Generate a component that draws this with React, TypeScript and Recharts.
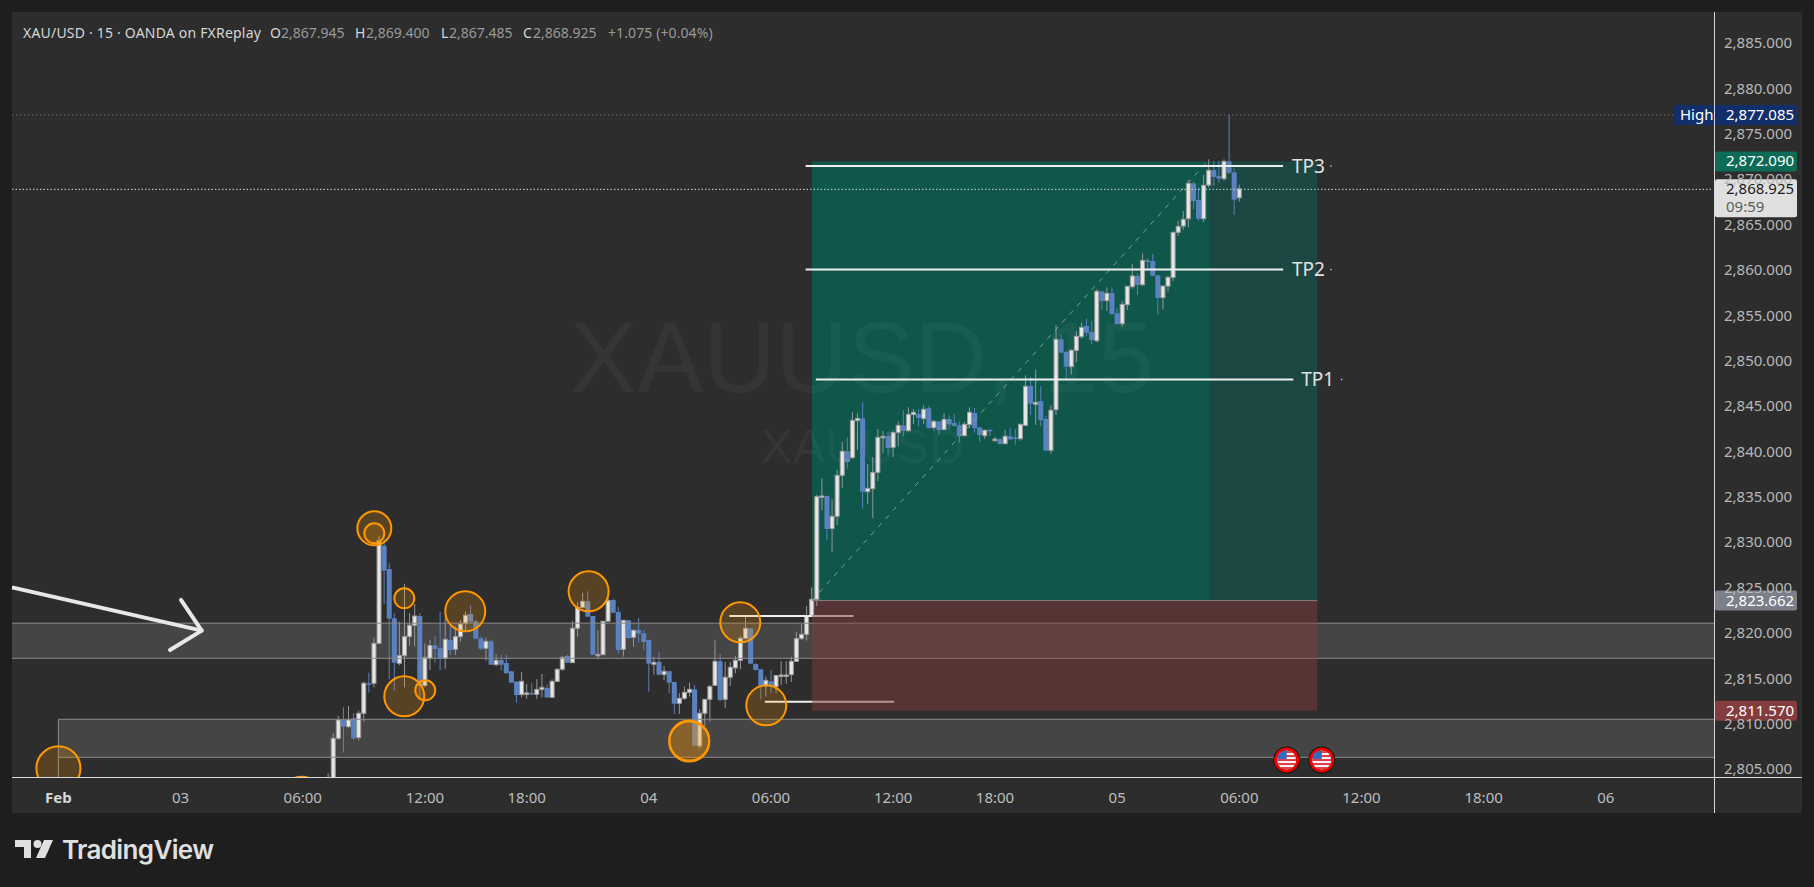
import { Bar, ComposedChart, ReferenceArea, ReferenceDot, ReferenceLine, XAxis, YAxis } from "recharts";

// 15 minute bars, index 0 is the first one that shows above the time axis
const opens = [
  2803.0, 2803.4, 2808.38, 2810.4, 2809.67, 2810.59, 2808.46, 2811.14, 2814.45, 2814.45,
  2818.85, 2829.61, 2827.04, 2821.61, 2816.65, 2817.49, 2819.59, 2820.84, 2821.86, 2814.19,
  2817.2, 2818.63, 2818.3, 2817.2, 2819.22, 2818.19, 2819.59, 2821.06, 2822.09, 2821.28,
  2819.4, 2818.3, 2819.07, 2816.5, 2817.02, 2816.69, 2815.77, 2814.63, 2813.2, 2813.31,
  2813.38, 2813.23, 2813.78, 2813.93, 2812.9, 2814.66, 2815.99, 2817.46, 2816.72, 2820.51,
  2822.82, 2823.48, 2821.86, 2817.57, 2817.6, 2821.28, 2823.63, 2822.3, 2818.19, 2821.39,
  2819.51, 2820.32, 2819.96, 2819.22, 2816.54, 2816.8, 2815.4, 2815.77, 2814.59, 2812.24,
  2812.79, 2813.45, 2813.78, 2807.54, 2811.14, 2812.68, 2814.22, 2816.87, 2812.68, 2815.11,
  2816.14, 2816.98, 2819.4, 2820.51, 2816.57, 2815.99, 2814.15, 2814.66, 2814.08, 2815.29,
  2815.29, 2815.4, 2816.87, 2819.37, 2819.84, 2821.83, 2823.7, 2835.02, 2835.09, 2831.49,
  2832.85, 2837.36, 2840.01, 2839.31, 2843.39, 2843.64, 2835.56, 2835.89, 2837.69, 2841.6,
  2841.7, 2840.45, 2842.07, 2842.87, 2842.29, 2844.05, 2844.12, 2843.61, 2844.75, 2842.62,
  2843.31, 2842.4, 2843.57, 2843.13, 2842.87, 2841.73, 2842.95, 2844.23, 2842.65, 2841.73,
  2842.38, 2841.31, 2841.33, 2840.85, 2841.66, 2841.53, 2841.4, 2842.87, 2847.21, 2845.19,
  2845.55, 2843.57, 2840.12, 2844.6, 2852.35, 2850.95, 2849.34, 2851.14, 2852.64, 2853.82,
  2853.16, 2852.2, 2857.64, 2856.61, 2857.45, 2855.21, 2854.07, 2856.17, 2858.15, 2859.33,
  2858.37, 2861.05, 2860.98, 2859.4, 2856.94, 2858.22, 2859.18, 2864.14, 2864.84, 2865.64,
  2869.54, 2867.7, 2865.64, 2869.35, 2871.01, 2870.35, 2870.05, 2871.96, 2870.75, 2867.945,
];
const highs = [
  2804.53, 2808.94, 2810.85, 2811.8, 2811.95, 2811.14, 2811.43, 2814.63, 2815.62, 2819.51,
  2830.68, 2830.42, 2827.67, 2822.16, 2821.24, 2825.39, 2822.16, 2823.19, 2822.16, 2818.85,
  2819.22, 2819.66, 2822.3, 2821.79, 2820.69, 2820.69, 2821.42, 2822.34, 2823.08, 2821.42,
  2819.59, 2819.51, 2819.22, 2817.68, 2817.57, 2817.57, 2815.77, 2814.63, 2815.69, 2814.37,
  2814.45, 2814.89, 2815.47, 2814.3, 2814.89, 2816.1, 2817.46, 2817.6, 2821.31, 2823.41,
  2824.44, 2824.58, 2821.86, 2820.32, 2821.28, 2824.14, 2823.7, 2822.89, 2821.39, 2821.39,
  2820.36, 2821.64, 2820.32, 2819.22, 2817.38, 2817.9, 2816.35, 2815.84, 2814.59, 2813.34,
  2814.08, 2814.52, 2814.26, 2811.58, 2812.68, 2814.26, 2819.22, 2817.68, 2816.8, 2816.8,
  2817.46, 2819.66, 2821.86, 2820.51, 2816.65, 2815.99, 2815.18, 2815.91, 2815.36, 2816.87,
  2816.87, 2817.38, 2820.1, 2820.98, 2822.97, 2825.02, 2835.2, 2837.03, 2835.09, 2834.72,
  2837.95, 2841.04, 2841.55, 2844.31, 2844.2, 2845.41, 2838.61, 2839.38, 2842.47, 2842.25,
  2842.14, 2842.29, 2843.31, 2844.56, 2844.86, 2844.67, 2844.64, 2845.08, 2845.0, 2843.46,
  2843.31, 2844.2, 2843.98, 2844.12, 2843.31, 2843.24, 2844.86, 2844.78, 2842.65, 2842.43,
  2842.43, 2841.59, 2841.48, 2842.36, 2842.58, 2842.47, 2843.09, 2848.38, 2848.16, 2849.04,
  2847.21, 2843.9, 2845.08, 2853.93, 2852.86, 2851.1, 2851.25, 2853.27, 2854.19, 2854.63,
  2854.4, 2857.86, 2857.64, 2858.08, 2858.04, 2855.76, 2856.57, 2858.19, 2860.65, 2859.62,
  2861.82, 2861.31, 2861.75, 2859.4, 2858.22, 2859.4, 2864.21, 2865.42, 2866.49, 2869.91,
  2869.72, 2869.1, 2870.46, 2872.18, 2872.0, 2872.0, 2872.18, 2877.085, 2871.19, 2869.4,
];
const lows = [
  2802.5, 2803.0, 2808.2, 2806.81, 2809.49, 2808.2, 2808.13, 2810.22, 2813.42, 2814.0,
  2818.85, 2823.19, 2814.89, 2813.64, 2816.43, 2814.0, 2818.56, 2818.49, 2812.61, 2814.0,
  2815.91, 2816.72, 2815.91, 2816.06, 2817.57, 2817.57, 2819.04, 2820.14, 2821.06, 2819.29,
  2818.12, 2816.94, 2816.46, 2816.35, 2815.84, 2815.55, 2814.52, 2812.31, 2812.9, 2812.72,
  2813.16, 2812.72, 2812.9, 2812.83, 2812.83, 2814.59, 2815.84, 2816.72, 2816.72, 2819.59,
  2822.71, 2821.72, 2817.6, 2817.09, 2817.53, 2821.2, 2822.16, 2817.75, 2817.38, 2819.37,
  2818.49, 2818.93, 2818.12, 2813.53, 2815.4, 2815.33, 2814.81, 2813.34, 2811.07, 2811.07,
  2812.61, 2812.98, 2807.47, 2807.25, 2809.74, 2810.22, 2814.15, 2812.46, 2811.73, 2814.15,
  2815.55, 2815.99, 2819.29, 2816.57, 2815.84, 2812.68, 2812.98, 2813.34, 2813.34, 2814.26,
  2814.37, 2814.59, 2816.8, 2819.22, 2819.15, 2821.79, 2822.97, 2833.54, 2830.24, 2828.95,
  2831.89, 2836.0, 2838.1, 2839.2, 2840.16, 2833.69, 2834.21, 2832.66, 2836.74, 2839.79,
  2839.6, 2839.38, 2840.6, 2841.7, 2842.14, 2843.02, 2842.73, 2843.02, 2842.51, 2842.29,
  2841.81, 2842.36, 2842.36, 2842.73, 2840.96, 2841.66, 2842.54, 2842.07, 2841.07, 2841.37,
  2841.7, 2841.07, 2840.74, 2840.78, 2841.26, 2840.74, 2841.18, 2842.8, 2844.01, 2842.91,
  2842.8, 2840.08, 2839.71, 2844.01, 2850.81, 2847.87, 2848.46, 2849.85, 2852.42, 2852.72,
  2851.83, 2852.05, 2855.58, 2855.47, 2855.03, 2854.04, 2853.74, 2855.58, 2857.93, 2857.23,
  2858.22, 2859.91, 2859.33, 2855.03, 2855.65, 2857.6, 2858.78, 2863.77, 2864.4, 2864.69,
  2866.67, 2865.42, 2865.28, 2869.1, 2869.24, 2869.61, 2869.83, 2870.57, 2866.05, 2867.485,
];
const closes = [
  2803.4, 2808.38, 2810.4, 2809.67, 2810.4, 2808.38, 2811.14, 2814.45, 2814.37, 2818.85,
  2830.17, 2826.86, 2821.57, 2816.72, 2817.49, 2819.59, 2820.84, 2821.86, 2814.19, 2817.31,
  2818.6, 2818.23, 2817.16, 2819.29, 2818.12, 2819.59, 2820.98, 2821.94, 2821.24, 2819.37,
  2818.26, 2819.07, 2816.5, 2816.98, 2816.5, 2815.55, 2814.52, 2813.16, 2814.66, 2813.38,
  2813.31, 2813.78, 2814.0, 2812.9, 2814.66, 2815.99, 2817.31, 2816.72, 2820.51, 2822.82,
  2823.48, 2821.79, 2817.6, 2817.64, 2821.28, 2823.55, 2822.23, 2818.12, 2821.39, 2819.44,
  2820.29, 2819.92, 2819.0, 2816.61, 2816.76, 2815.4, 2815.77, 2814.52, 2812.2, 2812.79,
  2813.45, 2813.78, 2807.58, 2811.14, 2812.68, 2814.08, 2816.87, 2812.61, 2815.11, 2816.21,
  2816.98, 2819.4, 2820.51, 2816.61, 2815.91, 2814.15, 2814.77, 2814.08, 2815.29, 2815.36,
  2815.36, 2816.87, 2819.37, 2819.84, 2821.83, 2823.7, 2835.01, 2835.09, 2831.45, 2832.85,
  2837.36, 2840.01, 2838.83, 2843.42, 2843.64, 2835.56, 2835.93, 2837.69, 2841.55, 2841.66,
  2840.38, 2842.07, 2842.87, 2842.25, 2844.09, 2844.31, 2843.68, 2844.64, 2842.58, 2843.31,
  2842.36, 2843.53, 2842.98, 2842.8, 2841.7, 2842.98, 2844.31, 2842.58, 2841.81, 2842.32,
  2842.34, 2841.35, 2840.82, 2841.66, 2841.33, 2841.49, 2842.98, 2847.17, 2845.26, 2845.41,
  2843.46, 2840.08, 2844.53, 2852.35, 2850.88, 2849.34, 2851.14, 2852.68, 2853.67, 2853.08,
  2852.27, 2857.64, 2856.57, 2857.42, 2855.14, 2854.04, 2856.2, 2858.19, 2859.33, 2858.34,
  2861.05, 2861.01, 2859.36, 2856.9, 2858.22, 2859.18, 2864.14, 2864.8, 2865.57, 2869.54,
  2867.59, 2865.64, 2869.32, 2870.97, 2870.24, 2870.05, 2871.96, 2870.71, 2867.74, 2868.925,
];

const priceTicks = [2805, 2810, 2815, 2820, 2825, 2830, 2835, 2840, 2845, 2850, 2855, 2860, 2865, 2870, 2875, 2880, 2885];
const timeTicks = [-53, -29, -5, 19, 39, 63, 87, 111, 131, 155, 179, 203, 227, 251];
const timeLabels = ["Feb", "03", "06:00", "12:00", "18:00", "04", "06:00", "12:00", "18:00", "05", "06:00", "12:00", "18:00", "06"];

// swing markers as [bar, price, radius]
const swingCircles = [
  [-53, 2805.08, 22],
  [-5.2, 2801.95, 20],
  [9.06, 2831.52, 17],
  [9.06, 2830.97, 10],
  [14.95, 2823.81, 10],
  [26.93, 2822.38, 20],
  [14.95, 2813.01, 20],
  [19.07, 2813.67, 10],
  [51.16, 2824.58, 20],
  [80.96, 2821.17, 20],
  [86.07, 2812.02, 20],
  [70.94, 2808.02, 20],
  [70.94, 2808.13, 20],
];

const takeProfits = [
  { name: "TP3", price: 2871.45, from: 93.8, to: 187.6, labelAt: 192.6, dotAt: 197 },
  { name: "TP2", price: 2860.05, from: 93.8, to: 187.6, labelAt: 192.6, dotAt: 197 },
  { name: "TP1", price: 2847.93, from: 95.8, to: 189.6, labelAt: 194.4, dotAt: 199.1 },
];

const newsBars = [188.3, 195.2];

// printed values
const LAST_PRICE = 2868.925;
const HIGH_PRICE = 2877.085;
const TARGET_PRICE = 2872.09;
const ENTRY_PRICE = 2823.662;
const STOP_PRICE = 2811.57;

// the same levels where they sit against the printed axis ticks
const LAST_LEVEL = 2868.88;
const HIGH_LEVEL = 2877.07;
const TARGET_LEVEL = 2871.95;
const ENTRY_LEVEL = 2823.56;
const STOP_LEVEL = 2811.43;

const X_MIN = -62.12;
const X_MAX = 272.26;
const Y_MIN = 2804.12;
const Y_MAX = 2888.42;

const BOX_LEFT = 95.05;
const BOX_SPLIT = 173.2;
const BOX_RIGHT = 194.3;

const UI_FONT = '"Noto Sans", sans-serif';
const ZONE_LINE = "#8b8b8b";
const ZONE_LINE_IN_BOX = "#8c6a6a";
const WHITE_LINE = "#eeeeee";
const WHITE_LINE_IN_BOX = "#b79494";

const bars = closes.map((close, i) => ({
  bar: i,
  open: opens[i],
  high: highs[i],
  low: lows[i],
  close,
}));

const formatPrice = (value: number) =>
  value.toLocaleString("en-US", { minimumFractionDigits: 3, maximumFractionDigits: 3 });

function Candle(props: any) {
  const { x, y, width, height, payload } = props;
  const { open, high, low, close } = payload;
  const h = Math.abs(height);
  const top = height < 0 ? y + height : y;
  const perUnit = h / Math.max(high - low, 0.001);
  const yOpen = top + (high - open) * perUnit;
  const yClose = top + (high - close) * perUnit;
  const up = close >= open;
  const mid = x + width / 2;
  const bodyTop = Math.min(yOpen, yClose);
  const bodyH = Math.max(Math.abs(yOpen - yClose), 1.5);
  return (
    <g>
      <line x1={mid} x2={mid} y1={top} y2={top + h} stroke={up ? "#969696" : "#5a80bd"} strokeWidth={1} />
      {up ? (
        <rect x={x + 0.5} y={bodyTop} width={width - 1} height={bodyH} fill="#e6e6e6" stroke="#9c9c9c" strokeWidth={1} />
      ) : (
        <rect x={x} y={bodyTop} width={width} height={bodyH} fill="#5b82c0" />
      )}
    </g>
  );
}

function TimeTick({ x, y, payload }: any) {
  const i = timeTicks.indexOf(payload.value);
  const first = i === 0;
  return (
    <text
      x={x}
      y={y + 18}
      textAnchor="middle"
      fill={first ? "#d8d8d8" : "#bdbdbd"}
      fontSize={15}
      fontWeight={first ? 700 : 400}
      fontFamily={UI_FONT}
    >
      {timeLabels[i]}
    </text>
  );
}

function tagShape(price: number, fill: string, color: string) {
  return ({ cx, cy }: any) => (
    <g>
      <rect x={cx + 1} y={cy - 10} width={82} height={20} rx={2} fill={fill} />
      <text x={cx + 12} y={cy + 5} fill={color} fontSize={15} fontFamily={UI_FONT}>
        {formatPrice(price)}
      </text>
    </g>
  );
}

function highTag({ cx, cy }: any) {
  return (
    <g>
      <rect x={cx - 40} y={cy - 10} width={123} height={20} rx={2} fill="#132f6b" />
      <text x={cx - 34} y={cy + 5} fill="#ffffff" fontSize={15} fontFamily={UI_FONT}>
        High
      </text>
      <text x={cx + 12} y={cy + 5} fill="#ffffff" fontSize={15} fontFamily={UI_FONT}>
        {formatPrice(HIGH_PRICE)}
      </text>
    </g>
  );
}

function lastTag({ cx, cy }: any) {
  return (
    <g>
      <rect x={cx + 1} y={cy - 10} width={82} height={38} rx={2} fill="#e0e0e0" />
      <text x={cx + 12} y={cy + 5} fill="#1a1a1a" fontSize={15} fontFamily={UI_FONT}>
        {formatPrice(LAST_PRICE)}
      </text>
      <text x={cx + 12} y={cy + 23} fill="#5c5c5c" fontSize={15} fontFamily={UI_FONT}>
        09:59
      </text>
    </g>
  );
}

function newsFlag({ cx, cy }: any) {
  const id = `flag-${Math.round(cx)}`;
  return (
    <g>
      <clipPath id={id}>
        <circle cx={cx} cy={cy} r={9.5} />
      </clipPath>
      <circle cx={cx} cy={cy} r={13.5} fill="#151515" />
      <circle cx={cx} cy={cy} r={11} fill="none" stroke="#f00000" strokeWidth={3} />
      <g clipPath={`url(#${id})`}>
        <rect x={cx - 10} y={cy - 10} width={20} height={20} fill="#f4f4f4" />
        {[-8, -4, 0, 4, 8].map((d) => (
          <rect key={d} x={cx - 10} y={cy + d - 1} width={20} height={2} fill="#e33a4a" />
        ))}
        <rect x={cx - 9} y={cy - 10} width={9} height={9} fill="#2f6bc0" />
      </g>
    </g>
  );
}

function textMark(label: string) {
  return ({ cx, cy }: any) => (
    <text x={cx} y={cy + 7} textAnchor="middle" fill="#e2e2e2" fontSize={19} fontFamily={UI_FONT}>
      {label}
    </text>
  );
}

const plainLine = (x1: number, y1: number, x2: number, y2: number, stroke: string, width: number, dash?: string, cap = "butt") => (
  <ReferenceLine
    key={`${x1}-${y1}-${x2}-${y2}`}
    segment={[
      { x: x1, y: y1 },
      { x: x2, y: y2 },
    ]}
    stroke={stroke}
    strokeWidth={width}
    strokeDasharray={dash}
    strokeLinecap={cap as any}
    ifOverflow="visible"
  />
);

const legendBits = [
  { left: 23, text: "XAU/USD · 15 · OANDA on FXReplay", color: "#d6d6d6", spacing: 0.2 },
  { left: 270, text: "O", color: "#d6d6d6", spacing: 0 },
  { left: 281, text: "2,867.945", color: "#9a9a9a", spacing: 0 },
  { left: 355, text: "H", color: "#d6d6d6", spacing: 0 },
  { left: 366, text: "2,869.400", color: "#9a9a9a", spacing: 0 },
  { left: 441, text: "L", color: "#d6d6d6", spacing: 0 },
  { left: 449, text: "2,867.485", color: "#9a9a9a", spacing: 0 },
  { left: 523, text: "C", color: "#d6d6d6", spacing: 0 },
  { left: 533, text: "2,868.925", color: "#9a9a9a", spacing: 0 },
  { left: 608, text: "+1.075 (+0.04%)", color: "#9a9a9a", spacing: 0.1 },
];

export default function App() {
  return (
    <div style={{ position: "absolute", left: 0, top: 0, width: 1814, height: 887, background: "#1e1e1e", overflow: "hidden" }}>
      <div style={{ position: "absolute", left: 12, top: 12, width: 1790, height: 801, background: "#2d2d2d" }} />

      <div style={{ position: "absolute", left: 0, top: 0 }}>
        <ComposedChart
          width={1814}
          height={887}
          data={bars}
          margin={{ top: 12, right: 13, bottom: 75, left: 12 }}
          barCategoryGap={0}
        >
          <XAxis
            dataKey="bar"
            type="number"
            domain={[X_MIN, X_MAX]}
            ticks={timeTicks}
            interval={0}
            allowDataOverflow
            height={35}
            tick={<TimeTick />}
            tickLine={false}
            axisLine={false}
          />
          <YAxis
            orientation="right"
            type="number"
            domain={[Y_MIN, Y_MAX]}
            ticks={priceTicks}
            interval={0}
            allowDataOverflow
            width={87}
            tickSize={0}
            tickMargin={10}
            tickLine={false}
            axisLine={false}
            tickFormatter={formatPrice}
            tick={{ fill: "#b8b8b8", fontSize: 15, fontFamily: UI_FONT }}
          />

          {/* support zones */}
          <ReferenceArea x1={X_MIN} x2={X_MAX} y1={2817.2} y2={2821.07} fill="#454545" fillOpacity={1} stroke="none" ifOverflow="visible" />
          <ReferenceArea x1={-53} x2={X_MAX} y1={2806.29} y2={2810.48} fill="#454545" fillOpacity={1} stroke="none" ifOverflow="visible" />
          {plainLine(X_MIN, 2821.07, BOX_LEFT, 2821.07, ZONE_LINE, 1)}
          {plainLine(BOX_LEFT, 2821.07, BOX_RIGHT, 2821.07, ZONE_LINE_IN_BOX, 1)}
          {plainLine(BOX_RIGHT, 2821.07, X_MAX, 2821.07, ZONE_LINE, 1)}
          {plainLine(X_MIN, 2817.2, BOX_LEFT, 2817.2, ZONE_LINE, 1)}
          {plainLine(BOX_LEFT, 2817.2, BOX_RIGHT, 2817.2, ZONE_LINE_IN_BOX, 1)}
          {plainLine(BOX_RIGHT, 2817.2, X_MAX, 2817.2, ZONE_LINE, 1)}
          {plainLine(-53, 2810.48, X_MAX, 2810.48, ZONE_LINE, 1)}
          {plainLine(-53, 2806.29, X_MAX, 2806.29, ZONE_LINE, 1)}
          {plainLine(-53, 2810.48, -53, Y_MIN, ZONE_LINE, 1)}

          {/* long position box */}
          <ReferenceArea x1={BOX_LEFT} x2={BOX_SPLIT} y1={ENTRY_LEVEL} y2={TARGET_LEVEL} fill="#10574b" fillOpacity={1} stroke="none" ifOverflow="visible" />
          <ReferenceArea x1={BOX_SPLIT} x2={BOX_RIGHT} y1={ENTRY_LEVEL} y2={TARGET_LEVEL} fill="#1c4843" fillOpacity={1} stroke="none" ifOverflow="visible" />
          <ReferenceArea x1={BOX_LEFT} x2={BOX_RIGHT} y1={STOP_LEVEL} y2={ENTRY_LEVEL} fill="rgb(129,59,59)" fillOpacity={0.5} stroke="none" ifOverflow="visible" />
          {plainLine(BOX_LEFT, ENTRY_LEVEL, BOX_RIGHT, ENTRY_LEVEL, "#7f7f7f", 1)}
          {plainLine(BOX_LEFT, ENTRY_LEVEL, 172.7, TARGET_LEVEL, "#8a9a96", 1, "5 6")}

          {/* short liquidity lines, dimmed where the stop box covers them */}
          {plainLine(78.8, 2821.87, BOX_LEFT, 2821.87, WHITE_LINE, 2)}
          {plainLine(BOX_LEFT, 2821.87, 103.2, 2821.87, WHITE_LINE_IN_BOX, 2)}
          {plainLine(85.8, 2812.42, BOX_LEFT, 2812.42, WHITE_LINE, 2)}
          {plainLine(BOX_LEFT, 2812.42, 111.2, 2812.42, WHITE_LINE_IN_BOX, 2)}

          {swingCircles.map(([bar, price, r]) => (
            <ReferenceDot
              key={`${bar}-${price}`}
              x={bar}
              y={price}
              r={r}
              fill="rgb(255,152,0)"
              fillOpacity={0.2}
              stroke="#ff9800"
              strokeWidth={2}
              ifOverflow="hidden"
            />
          ))}

          {/* arrow into the upper zone */}
          {plainLine(X_MIN, 2825.02, -24.85, 2820.25, "#e8e8e8", 4)}
          {plainLine(-28.92, 2823.63, -24.85, 2820.25, "#e8e8e8", 4, undefined, "round")}
          {plainLine(-31.08, 2818.12, -24.85, 2820.25, "#e8e8e8", 4, undefined, "round")}

          {plainLine(X_MIN, HIGH_LEVEL, X_MAX, HIGH_LEVEL, "#7d7d7d", 1, "1 3")}
          {plainLine(X_MIN, LAST_LEVEL, X_MAX - 0.4, LAST_LEVEL, "#d4d4d4", 1, "1.5 2")}

          {takeProfits.map((tp) => plainLine(tp.from, tp.price, tp.to, tp.price, WHITE_LINE, 2))}
          {takeProfits.map((tp) => (
            <ReferenceDot key={tp.name} x={tp.labelAt} y={tp.price} shape={textMark(tp.name)} ifOverflow="visible" />
          ))}
          {takeProfits.map((tp) => (
            <ReferenceDot key={`${tp.name}-dot`} x={tp.dotAt} y={tp.price} r={0.8} fill="#d8d8d8" stroke="none" ifOverflow="visible" />
          ))}

          <Bar
            dataKey={(d: any) => [d.low, d.high]}
            barSize={5}
            shape={<Candle />}
            isAnimationActive={false}
          />

          {newsBars.map((bar) => (
            <ReferenceDot key={bar} x={bar} y={2805.99} shape={newsFlag} ifOverflow="visible" />
          ))}

          <ReferenceDot x={X_MAX} y={HIGH_LEVEL} shape={highTag} ifOverflow="visible" />
          <ReferenceDot x={X_MAX} y={TARGET_LEVEL} shape={tagShape(TARGET_PRICE, "#0e6b57", "#ffffff")} ifOverflow="visible" />
          <ReferenceDot x={X_MAX} y={LAST_LEVEL} shape={lastTag} ifOverflow="visible" />
          <ReferenceDot x={X_MAX} y={ENTRY_LEVEL} shape={tagShape(ENTRY_PRICE, "#7b7f8a", "#ffffff")} ifOverflow="visible" />
          <ReferenceDot x={X_MAX} y={STOP_LEVEL} shape={tagShape(STOP_PRICE, "#853c3f", "#ffffff")} ifOverflow="visible" />
        </ComposedChart>
      </div>

      {/* axis frame lines */}
      <div style={{ position: "absolute", left: 12, top: 777, width: 1790, height: 1, background: "#d8d8d8" }} />
      <div style={{ position: "absolute", left: 1714, top: 12, width: 1, height: 801, background: "#d8d8d8" }} />

      {/* watermark */}
      <div style={{ position: "absolute", left: 362, top: 300, width: 1000, textAlign: "center", fontFamily: '"Liberation Sans", sans-serif', fontSize: 100, lineHeight: "115px", color: "rgba(255,255,255,0.04)", pointerEvents: "none" }}>
        XAUUSD, 15
      </div>
      <div style={{ position: "absolute", left: 362, top: 418, width: 1000, textAlign: "center", fontFamily: '"Liberation Sans", sans-serif', fontSize: 49, lineHeight: "56px", color: "rgba(255,255,255,0.04)", pointerEvents: "none" }}>
        XAUUSD
      </div>

      {legendBits.map((bit) => (
        <span
          key={bit.left}
          style={{ position: "absolute", left: bit.left, top: 23, fontFamily: UI_FONT, fontSize: 14, letterSpacing: bit.spacing, lineHeight: "20px", color: bit.color, whiteSpace: "nowrap" }}
        >
          {bit.text}
        </span>
      ))}

      <svg style={{ position: "absolute", left: 0, top: 825 }} width={240} height={50}>
        <path d="M15 15H31V33H24V22H15Z" fill="#e0e0e0" />
        <circle cx={37.5} cy={19} r={4} fill="#e0e0e0" />
        <path d="M44 15H53L45 33H36Z" fill="#e0e0e0" />
        <text x={62} y={34} fontFamily="Inter, sans-serif" fontSize={26} fontWeight={600} fill="#e0e0e0" textLength={152}>
          TradingView
        </text>
      </svg>
    </div>
  );
}
